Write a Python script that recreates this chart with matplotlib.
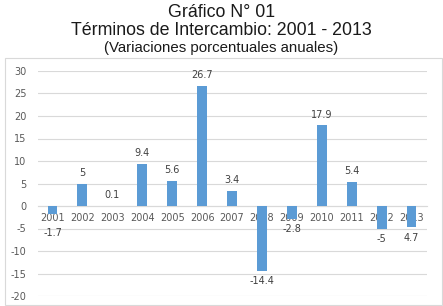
import matplotlib.pyplot as plt
from matplotlib.patches import Rectangle

# datos del grafico
years = ["2001", "2002", "2003", "2004", "2005", "2006", "2007",
         "2008", "2009", "2010", "2011", "2012", "2013"]
values = [-1.7, 5, 0.1, 9.4, 5.6, 26.7, 3.4, -14.4, -2.8, 17.9, 5.4, -5, -4.7]
value_labels = ["-1.7", "5", "0.1", "9.4", "5.6", "26.7", "3.4",
                "-14.4", "-2.8", "17.9", "5.4", "-5", "4.7"]
y_ticks = [-20, -15, -10, -5, 0, 5, 10, 15, 20, 25, 30]

W, H = 443, 306
fig = plt.figure(figsize=(W / 100, H / 100), dpi=100)
fig.patch.set_facecolor("white")

# marco del grafico
fig.patches.append(Rectangle((5 / W, 1 / H), 437 / W, 247 / H, transform=fig.transFigure,
                             fill=False, edgecolor="#d9d9d9", linewidth=0.8))

title_font = "Liberation Sans"
fig.text(0.5, 1 - 17 / H, "Gráfico N° 01", ha="center", va="baseline", fontsize=12.8,
         color="#1a1a1a", family=title_font)
fig.text(0.5, 1 - 35 / H, "Términos de Intercambio: 2001 - 2013", ha="center", va="baseline",
         fontsize=12.8, color="#1a1a1a", family=title_font)
fig.text(0.5, 1 - 52 / H, "(Variaciones porcentuales anuales)", ha="center", va="baseline",
         fontsize=10.8, color="#1a1a1a", family=title_font)

ax = fig.add_axes([37.5 / W, 1 - 296 / H, 389 / W, 225 / H])
x = list(range(len(years)))
ax.bar(x, values, width=0.33, color="#5b9bd5", zorder=3)

ax.set_xlim(-0.5, len(years) - 0.5)
ax.set_ylim(-20, 30)
ax.set_yticks(y_ticks)
ax.set_yticklabels([str(t) for t in y_ticks])
ax.grid(axis="y", color="#d9d9d9", linewidth=0.8, zorder=0)
for s in ["top", "right", "left"]:
    ax.spines[s].set_visible(False)
ax.spines["bottom"].set_position(("data", 0))
ax.spines["bottom"].set_color("#d9d9d9")
ax.spines["bottom"].set_linewidth(0.8)
ax.set_xticks(x)
ax.set_xticklabels(years)
ax.tick_params(axis="x", length=0, pad=5, labelsize=7, labelcolor="#595959")
ax.tick_params(axis="y", length=0, pad=8, labelsize=7, labelcolor="#595959")

for xi, v, lab in zip(x, values, value_labels):
    if v >= 0:
        ax.annotate(lab, (xi, v), xytext=(0, 4), textcoords="offset points",
                    ha="center", va="bottom", fontsize=7, color="#404040")
    else:
        # la etiqueta de 2001 queda bajo el rotulo del eje, como en el original
        dy = -10 if v > -2 else -4
        ax.annotate(lab, (xi, v), xytext=(0, dy), textcoords="offset points",
                    ha="center", va="top", fontsize=7, color="#404040")

fig.savefig("out.png", dpi=100)
